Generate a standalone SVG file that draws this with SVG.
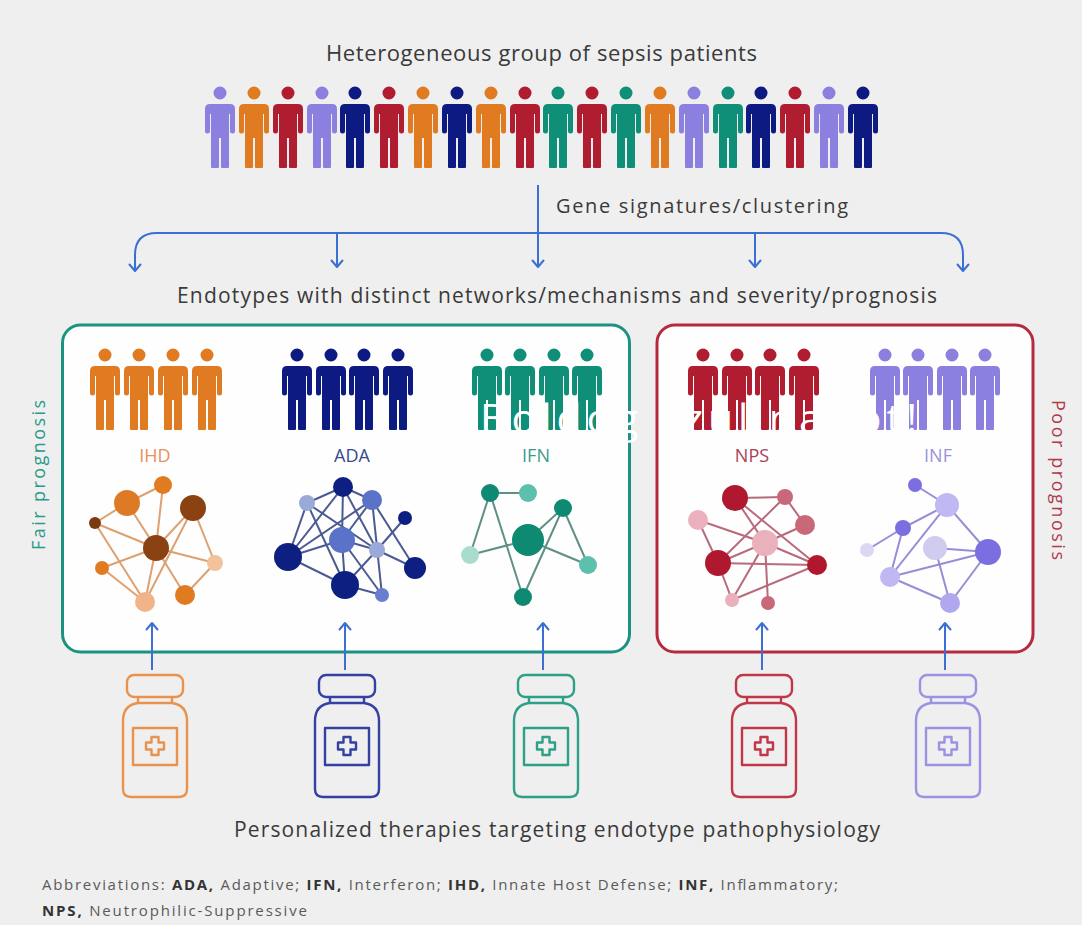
<svg xmlns="http://www.w3.org/2000/svg" xmlns:xlink="http://www.w3.org/1999/xlink" width="1082" height="925" viewBox="0 0 1082 925">
  <style>
    .t { font-family: "Open Sans", "DejaVu Sans", sans-serif; fill: #3a3a3a; font-weight: 500; }
    .lbl { font-family: "Open Sans", "DejaVu Sans", sans-serif; font-size: 18px; text-anchor: middle; font-weight: 500; }
    .abbr { font-family: "Open Sans", "DejaVu Sans", sans-serif; font-size: 15px; fill: #5a5a5a; }
    .abbr tspan.b { font-weight: 700; fill: #333; }
    .conn { fill: none; stroke: #3c6fd4; stroke-width: 2; }
    .bottle { fill: none; stroke-width: 2.4; stroke-linejoin: round; }
    .e-ihd line { stroke: #dda070; stroke-width: 2; }
    .e-ada line { stroke: #4b5a92; stroke-width: 2; }
    .e-ifn line { stroke: #5f8f86; stroke-width: 2; }
    .e-nps line { stroke: #b8697a; stroke-width: 2; }
    .e-inf line { stroke: #958ed6; stroke-width: 2; }
  </style>
  <defs>
    <!-- person pictogram: shoulders at y=0, head above -->
    <path id="person" d="M -6.5 -11 a 6.5 6.5 0 1 0 13 0 a 6.5 6.5 0 1 0 -13 0 Z
      M -15 5 Q -15 0 -10 0 L 10 0 Q 15 0 15 5 L 15 27 Q 15 29.5 12.5 29.5 Q 10 29.5 10 27 L 10 10 L 9 10 L 9 63 Q 9 64 8 64 L 2 64 Q 1 64 1 63 L 1 34 L -1 34 L -1 63 Q -1 64 -2 64 L -8 64 Q -9 64 -9 63 L -9 10 L -10 10 L -10 27 Q -10 29.5 -12.5 29.5 Q -15 29.5 -15 27 Z"/>
    <!-- medicine bottle outline, cap top at y=0 -->
    <g id="bottle">
      <rect x="-28" y="0" width="56" height="22" rx="7"/>
      <path d="M -17 22 L -17 28 M 17 22 L 17 28"/>
      <path d="M -17 28 L 17 28 Q 32 30 32 46 L 32 114 Q 32 122 24 122 L -24 122 Q -32 122 -32 114 L -32 46 Q -32 30 -17 28 Z"/>
      <rect x="-22" y="53" width="44" height="37"/>
      <path d="M -3.5 62 h7 v5.5 h5.5 v7 h-5.5 v5.5 h-7 v-5.5 h-5.5 v-7 h5.5 z"/>
    </g>
    <marker id="chev" viewBox="-9 -7 11 14" refX="0" refY="0" markerWidth="11" markerHeight="14" orient="auto" markerUnits="userSpaceOnUse">
      <path d="M -6.5 -5.5 L 0 0 L -6.5 5.5" fill="none" stroke="#3c6fd4" stroke-width="2" stroke-linecap="round" stroke-linejoin="round"/>
    </marker>
  </defs>

  <rect width="1082" height="925" fill="#efefef"/>

  <!-- headings -->
  <text class="t" x="326" y="61" font-size="22" textLength="431" lengthAdjust="spacing">Heterogeneous group of sepsis patients</text>
  <text class="t" x="556" y="213" font-size="20" textLength="292" lengthAdjust="spacing">Gene signatures/clustering</text>
  <text class="t" x="177" y="303" font-size="21" textLength="760" lengthAdjust="spacing">Endotypes with distinct networks/mechanisms and severity/prognosis</text>

  <!-- mixed patient population -->
  <g id="population">
    <use href="#person" x="220" y="104" fill="#8b7fe0"/>
    <use href="#person" x="254" y="104" fill="#e07b22"/>
    <use href="#person" x="288" y="104" fill="#b01c30"/>
    <use href="#person" x="322" y="104" fill="#8b7fe0"/>
    <use href="#person" x="355" y="104" fill="#0c1a82"/>
    <use href="#person" x="389" y="104" fill="#b01c30"/>
    <use href="#person" x="423" y="104" fill="#e07b22"/>
    <use href="#person" x="457" y="104" fill="#0c1a82"/>
    <use href="#person" x="491" y="104" fill="#e07b22"/>
    <use href="#person" x="525" y="104" fill="#b01c30"/>
    <use href="#person" x="558" y="104" fill="#0f8f78"/>
    <use href="#person" x="592" y="104" fill="#b01c30"/>
    <use href="#person" x="626" y="104" fill="#0f8f78"/>
    <use href="#person" x="660" y="104" fill="#e07b22"/>
    <use href="#person" x="694" y="104" fill="#8b7fe0"/>
    <use href="#person" x="728" y="104" fill="#0f8f78"/>
    <use href="#person" x="761" y="104" fill="#0c1a82"/>
    <use href="#person" x="795" y="104" fill="#b01c30"/>
    <use href="#person" x="829" y="104" fill="#8b7fe0"/>
    <use href="#person" x="863" y="104" fill="#0c1a82"/>
  </g>

  <!-- prognosis frames -->
  <g id="fair-prognosis">
    <rect x="62.5" y="325" width="567" height="327" rx="18" fill="#fefefe" stroke="#1c9282" stroke-width="3"/>
    <text class="t" transform="translate(45,475) rotate(-90)" font-size="18" text-anchor="middle" style="fill:#2a9a8a" textLength="150" lengthAdjust="spacing">Fair prognosis</text>
  </g>
  <g id="poor-prognosis">
    <rect x="657" y="325" width="376" height="327" rx="18" fill="#fefefe" stroke="#b52a3c" stroke-width="3"/>
    <text class="t" transform="translate(1052,480) rotate(90)" font-size="18" text-anchor="middle" style="fill:#b03a4a" textLength="160" lengthAdjust="spacing">Poor prognosis</text>
  </g>

  <!-- connectors -->
  <g id="connectors" class="conn">
    <path d="M538 185 V267" marker-end="url(#chev)"/>
    <path d="M538 233 H157 Q135 233 135 255 V271" marker-end="url(#chev)"/>
    <path d="M538 233 H941 Q963 233 963 255 V271" marker-end="url(#chev)"/>
    <path d="M337 233 V267" marker-end="url(#chev)"/>
    <path d="M755 233 V267" marker-end="url(#chev)"/>
    <path d="M152 670 V623" marker-end="url(#chev)"/>
    <path d="M345 670 V623" marker-end="url(#chev)"/>
    <path d="M543 670 V623" marker-end="url(#chev)"/>
    <path d="M762 670 V623" marker-end="url(#chev)"/>
    <path d="M945 670 V623" marker-end="url(#chev)"/>
  </g>

  <!-- IHD endotype -->
  <g id="ihd">
    <use href="#person" x="105" y="366" fill="#e07b22"/>
    <use href="#person" x="139" y="366" fill="#e07b22"/>
    <use href="#person" x="173" y="366" fill="#e07b22"/>
    <use href="#person" x="207" y="366" fill="#e07b22"/>
    <text class="lbl" x="155" y="462" fill="#e8915c">IHD</text>
    <g class="e-ihd">
      <line x1="163" y1="485" x2="127" y2="503"/>
      <line x1="127" y1="503" x2="95" y2="523"/>
      <line x1="127" y1="503" x2="156" y2="548"/>
      <line x1="163" y1="485" x2="156" y2="548"/>
      <line x1="193" y1="508" x2="156" y2="548"/>
      <line x1="193" y1="508" x2="215" y2="563"/>
      <line x1="193" y1="508" x2="145" y2="602"/>
      <line x1="95" y1="523" x2="156" y2="548"/>
      <line x1="95" y1="523" x2="145" y2="602"/>
      <line x1="102" y1="568" x2="156" y2="548"/>
      <line x1="156" y1="548" x2="215" y2="563"/>
      <line x1="156" y1="548" x2="145" y2="602"/>
      <line x1="156" y1="548" x2="185" y2="595"/>
      <line x1="102" y1="568" x2="145" y2="602"/>
      <line x1="215" y1="563" x2="185" y2="595"/>
    </g>
    <circle cx="163" cy="485" r="9" fill="#e07b22"/>
    <circle cx="127" cy="503" r="13" fill="#dc7a26"/>
    <circle cx="193" cy="508" r="13" fill="#8a4212"/>
    <circle cx="95" cy="523" r="6" fill="#7a3a12"/>
    <circle cx="156" cy="548" r="13" fill="#8a4212"/>
    <circle cx="102" cy="568" r="7" fill="#e07b22"/>
    <circle cx="215" cy="563" r="8" fill="#f2c29a"/>
    <circle cx="145" cy="602" r="10" fill="#f0b488"/>
    <circle cx="185" cy="595" r="10" fill="#e07b22"/>
  </g>

  <!-- ADA endotype -->
  <g id="ada">
    <use href="#person" x="297" y="366" fill="#0c1a82"/>
    <use href="#person" x="331" y="366" fill="#0c1a82"/>
    <use href="#person" x="364" y="366" fill="#0c1a82"/>
    <use href="#person" x="398" y="366" fill="#0c1a82"/>
    <text class="lbl" x="352" y="462" fill="#3a4890">ADA</text>
    <g class="e-ada">
      <line x1="343" y1="487" x2="307" y2="503"/>
      <line x1="343" y1="487" x2="372" y2="500"/>
      <line x1="343" y1="487" x2="288" y2="557"/>
      <line x1="343" y1="487" x2="342" y2="540"/>
      <line x1="343" y1="487" x2="377" y2="550"/>
      <line x1="307" y1="503" x2="288" y2="557"/>
      <line x1="307" y1="503" x2="377" y2="550"/>
      <line x1="307" y1="503" x2="345" y2="585"/>
      <line x1="372" y1="500" x2="288" y2="557"/>
      <line x1="372" y1="500" x2="342" y2="540"/>
      <line x1="372" y1="500" x2="415" y2="568"/>
      <line x1="372" y1="500" x2="382" y2="595"/>
      <line x1="405" y1="518" x2="377" y2="550"/>
      <line x1="288" y1="557" x2="342" y2="540"/>
      <line x1="288" y1="557" x2="345" y2="585"/>
      <line x1="342" y1="540" x2="377" y2="550"/>
      <line x1="342" y1="540" x2="345" y2="585"/>
      <line x1="342" y1="540" x2="382" y2="595"/>
      <line x1="377" y1="550" x2="415" y2="568"/>
      <line x1="377" y1="550" x2="345" y2="585"/>
      <line x1="345" y1="585" x2="382" y2="595"/>
    </g>
    <circle cx="343" cy="487" r="10" fill="#0d1f80"/>
    <circle cx="307" cy="503" r="8" fill="#9aaad8"/>
    <circle cx="372" cy="500" r="10" fill="#5a72c8"/>
    <circle cx="405" cy="518" r="7" fill="#0d1f80"/>
    <circle cx="288" cy="557" r="14" fill="#0d1f80"/>
    <circle cx="342" cy="540" r="13" fill="#5a72c8"/>
    <circle cx="377" cy="550" r="8" fill="#9aaad8"/>
    <circle cx="415" cy="568" r="11" fill="#0d1f80"/>
    <circle cx="345" cy="585" r="14" fill="#0d1f80"/>
    <circle cx="382" cy="595" r="7" fill="#6a7ed0"/>
  </g>

  <!-- IFN endotype -->
  <g id="ifn">
    <use href="#person" x="487" y="366" fill="#0f8f78"/>
    <use href="#person" x="520" y="366" fill="#0f8f78"/>
    <use href="#person" x="554" y="366" fill="#0f8f78"/>
    <use href="#person" x="587" y="366" fill="#0f8f78"/>
    <text class="lbl" x="536" y="462" fill="#3a9a8a">IFN</text>
    <g class="e-ifn">
      <line x1="490" y1="493" x2="528" y2="493"/>
      <line x1="490" y1="493" x2="470" y2="555"/>
      <line x1="490" y1="493" x2="523" y2="597"/>
      <line x1="470" y1="555" x2="528" y2="540"/>
      <line x1="528" y1="540" x2="588" y2="565"/>
      <line x1="563" y1="508" x2="528" y2="540"/>
      <line x1="563" y1="508" x2="523" y2="597"/>
      <line x1="563" y1="508" x2="588" y2="565"/>
    </g>
    <circle cx="490" cy="493" r="9" fill="#0f8a72"/>
    <circle cx="528" cy="493" r="9" fill="#5cc0ac"/>
    <circle cx="563" cy="508" r="9" fill="#0f8a72"/>
    <circle cx="528" cy="540" r="16" fill="#0f8a72"/>
    <circle cx="470" cy="555" r="9" fill="#a8dccc"/>
    <circle cx="588" cy="565" r="9" fill="#5cc0ac"/>
    <circle cx="523" cy="597" r="9" fill="#0f8a72"/>
  </g>

  <!-- NPS endotype -->
  <g id="nps">
    <use href="#person" x="703" y="366" fill="#b01c30"/>
    <use href="#person" x="737" y="366" fill="#b01c30"/>
    <use href="#person" x="770" y="366" fill="#b01c30"/>
    <use href="#person" x="804" y="366" fill="#b01c30"/>
    <text class="lbl" x="752" y="462" fill="#a84256">NPS</text>
    <g class="e-nps">
      <line x1="735" y1="498" x2="785" y2="497"/>
      <line x1="735" y1="498" x2="817" y2="565"/>
      <line x1="735" y1="498" x2="765" y2="543"/>
      <line x1="785" y1="497" x2="805" y2="525"/>
      <line x1="785" y1="497" x2="718" y2="563"/>
      <line x1="698" y1="520" x2="765" y2="543"/>
      <line x1="698" y1="520" x2="718" y2="563"/>
      <line x1="805" y1="525" x2="765" y2="543"/>
      <line x1="765" y1="543" x2="718" y2="563"/>
      <line x1="765" y1="543" x2="817" y2="565"/>
      <line x1="765" y1="543" x2="732" y2="600"/>
      <line x1="765" y1="543" x2="768" y2="603"/>
      <line x1="718" y1="563" x2="732" y2="600"/>
      <line x1="817" y1="565" x2="732" y2="600"/>
      <line x1="718" y1="563" x2="817" y2="565"/>
    </g>
    <circle cx="735" cy="498" r="13" fill="#b01830"/>
    <circle cx="785" cy="497" r="8" fill="#c86878"/>
    <circle cx="698" cy="520" r="10" fill="#eab0bc"/>
    <circle cx="805" cy="525" r="10" fill="#c86878"/>
    <circle cx="765" cy="543" r="13" fill="#eab0bc"/>
    <circle cx="718" cy="563" r="13" fill="#b01830"/>
    <circle cx="817" cy="565" r="10" fill="#b01830"/>
    <circle cx="732" cy="600" r="7" fill="#eab0bc"/>
    <circle cx="768" cy="603" r="7" fill="#c86878"/>
  </g>

  <!-- INF endotype -->
  <g id="inf">
    <use href="#person" x="885" y="366" fill="#8b7fe0"/>
    <use href="#person" x="918" y="366" fill="#8b7fe0"/>
    <use href="#person" x="952" y="366" fill="#8b7fe0"/>
    <use href="#person" x="985" y="366" fill="#8b7fe0"/>
    <text class="lbl" x="938" y="462" fill="#9a92da">INF</text>
    <g class="e-inf">
      <line x1="915" y1="485" x2="947" y2="505"/>
      <line x1="947" y1="505" x2="903" y2="528"/>
      <line x1="947" y1="505" x2="988" y2="552"/>
      <line x1="947" y1="505" x2="890" y2="577"/>
      <line x1="903" y1="528" x2="867" y2="550"/>
      <line x1="903" y1="528" x2="890" y2="577"/>
      <line x1="935" y1="548" x2="988" y2="552"/>
      <line x1="935" y1="548" x2="950" y2="603"/>
      <line x1="988" y1="552" x2="890" y2="577"/>
      <line x1="988" y1="552" x2="950" y2="603"/>
      <line x1="890" y1="577" x2="950" y2="603"/>
    </g>
    <circle cx="915" cy="485" r="7" fill="#7a6ee0"/>
    <circle cx="947" cy="505" r="12" fill="#c0b8f2"/>
    <circle cx="903" cy="528" r="8" fill="#7a6ee0"/>
    <circle cx="867" cy="550" r="7" fill="#dcd8f4"/>
    <circle cx="935" cy="548" r="12" fill="#d0ccf0"/>
    <circle cx="988" cy="552" r="13" fill="#7a6ee0"/>
    <circle cx="890" cy="577" r="10" fill="#c0b8f2"/>
    <circle cx="950" cy="603" r="10" fill="#b0a8ee"/>
  </g>

  <!-- therapies -->
  <g id="therapy-ihd"><use href="#bottle" x="155" y="675" class="bottle" stroke="#e8924e"/></g>
  <g id="therapy-ada"><use href="#bottle" x="347" y="675" class="bottle" stroke="#3440a2"/></g>
  <g id="therapy-ifn"><use href="#bottle" x="546" y="675" class="bottle" stroke="#2ea088"/></g>
  <g id="therapy-nps"><use href="#bottle" x="764" y="675" class="bottle" stroke="#c03848"/></g>
  <g id="therapy-inf"><use href="#bottle" x="948" y="675" class="bottle" stroke="#9a92e2"/></g>

  <text class="t" x="234" y="837" font-size="21" textLength="646" lengthAdjust="spacing">Personalized therapies targeting endotype pathophysiology</text>

  <text class="abbr" x="42" y="890" textLength="796" lengthAdjust="spacing">Abbreviations: <tspan class="b">ADA,</tspan> Adaptive; <tspan class="b">IFN,</tspan> Interferon; <tspan class="b">IHD,</tspan> Innate Host Defense; <tspan class="b">INF,</tspan> Inflammatory;</text>
  <text class="abbr" x="42" y="916" textLength="265" lengthAdjust="spacing"><tspan class="b">NPS,</tspan> Neutrophilic-Suppressive</text>

  <!-- white greeting overlay -->
  <text x="480" y="433" font-family="Open Sans, DejaVu Sans, sans-serif" font-size="41" fill="#ffffff" textLength="437" lengthAdjust="spacing">Boldog szülinapot!</text>
</svg>
